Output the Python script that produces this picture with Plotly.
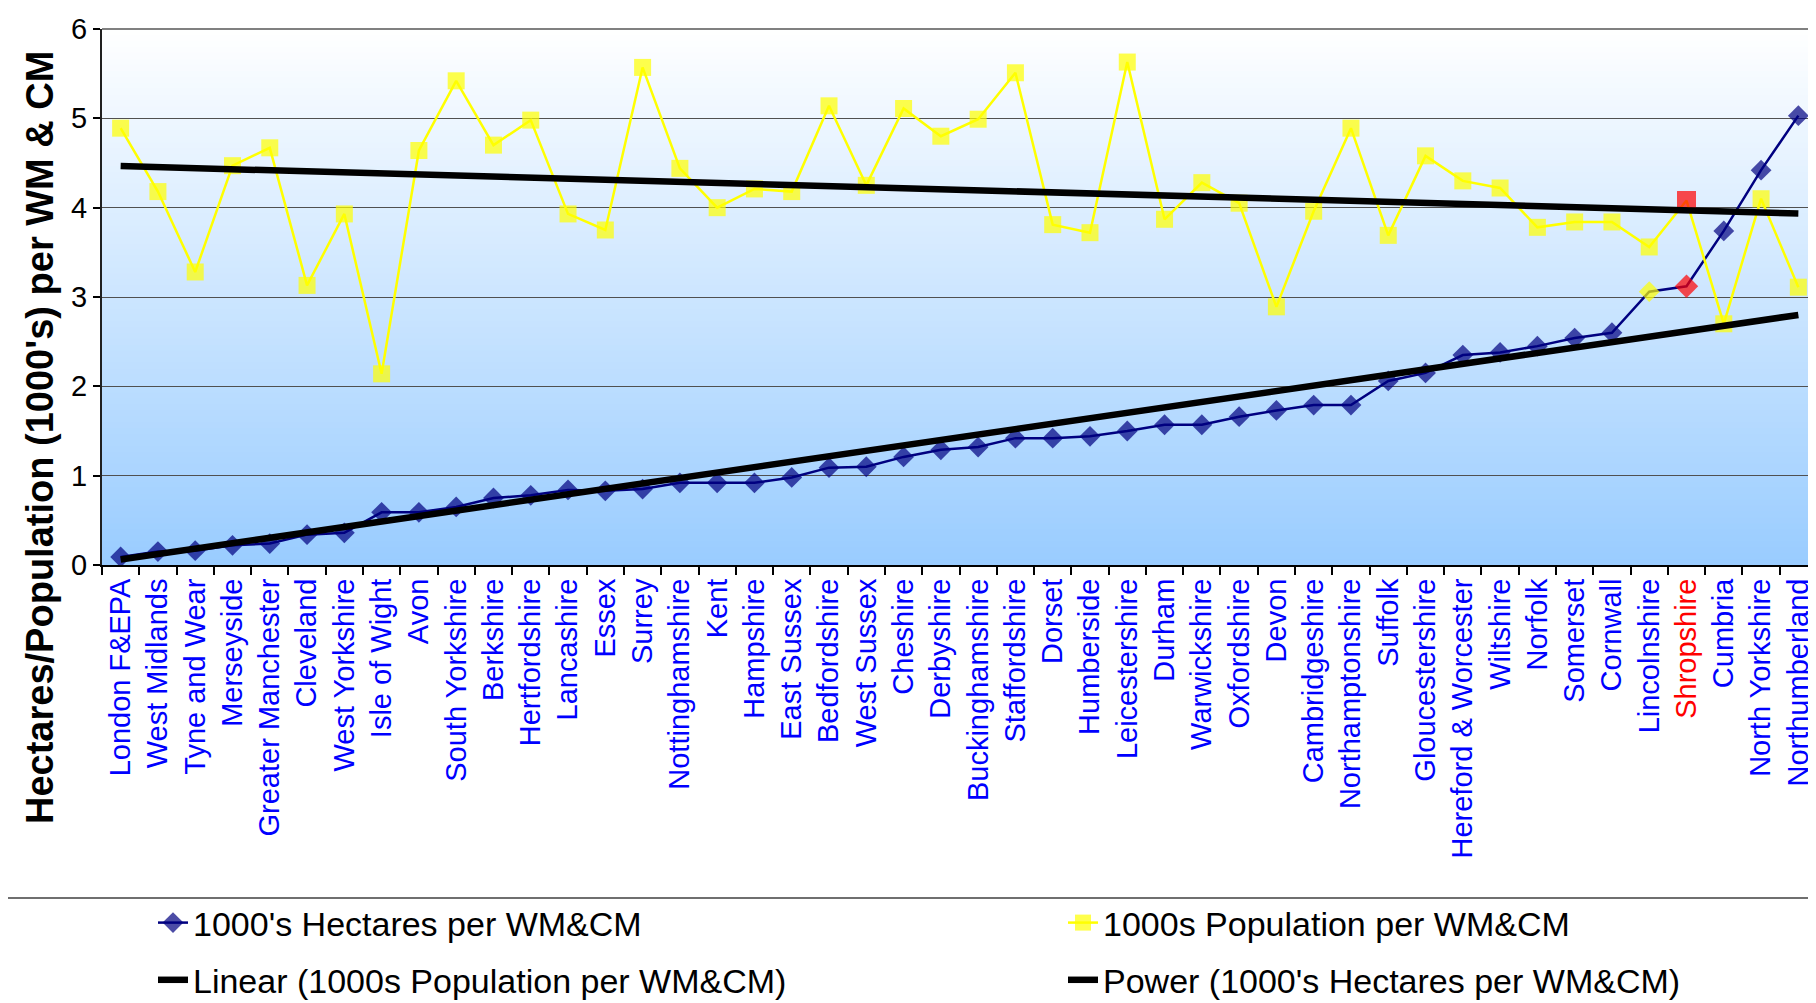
import numpy as np
import plotly.graph_objects as go

categories = [
    "London F&EPA", "West Midlands", "Tyne and Wear", "Merseyside", "Greater Manchester",
    "Cleveland", "West Yorkshire", "Isle of Wight", "Avon", "South Yorkshire",
    "Berkshire", "Hertfordshire", "Lancashire", "Essex", "Surrey",
    "Nottinghamshire", "Kent", "Hampshire", "East Sussex", "Bedfordshire",
    "West Sussex", "Cheshire", "Derbyshire", "Buckinghamshire", "Staffordshire",
    "Dorset", "Humberside", "Leicestershire", "Durham", "Warwickshire",
    "Oxfordshire", "Devon", "Cambridgeshire", "Northamptonshire", "Suffolk",
    "Gloucestershire", "Hereford & Worcester", "Wiltshire", "Norfolk", "Somerset",
    "Cornwall", "Lincolnshire", "Shropshire", "Cumbria", "North Yorkshire",
    "Northumberland",
]

hectares = [
    0.09, 0.15, 0.16, 0.22, 0.24, 0.34, 0.36, 0.59, 0.59, 0.65,
    0.75, 0.78, 0.84, 0.83, 0.85, 0.92, 0.92, 0.92, 0.98, 1.09,
    1.10, 1.21, 1.29, 1.32, 1.42, 1.42, 1.44, 1.50, 1.57, 1.57,
    1.66, 1.73, 1.79, 1.79, 2.06, 2.15, 2.35, 2.38, 2.45, 2.54,
    2.60, 3.06, 3.12, 3.74, 4.42, 5.03,
]

population = [
    4.89, 4.18, 3.28, 4.47, 4.67, 3.13, 3.93, 2.14, 4.64, 5.42,
    4.70, 4.98, 3.93, 3.75, 5.57, 4.44, 4.00, 4.21, 4.18, 5.14,
    4.25, 5.11, 4.80, 4.99, 5.51, 3.81, 3.72, 5.63, 3.87, 4.28,
    4.05, 2.89, 3.96, 4.89, 3.69, 4.58, 4.30, 4.22, 3.78, 3.84,
    3.84, 3.56, 4.08, 2.70, 4.10, 3.11,
]

y_ticks = [0, 1, 2, 3, 4, 5, 6]

# ---- styles ----
NAVY = "#000080"
YELLOW = "#FFFF00"
RED = "#FF0000"
hect_highlight = {"Lincolnshire": YELLOW, "Shropshire": RED}
pop_highlight = {"Shropshire": RED}
label_highlight = {"Shropshire": RED}

hect_colors = [hect_highlight.get(c, NAVY) for c in categories]
hect_sizes = [18 if c == "Shropshire" else 16 for c in categories]
pop_colors = [pop_highlight.get(c, YELLOW) for c in categories]
pop_sizes = [19 if c == "Shropshire" else 17 for c in categories]
ticktext = [
    f'<span style="color:{label_highlight[c]}">{c}</span>' if c in label_highlight else c
    for c in categories
]

# ---- trendlines (as computed by the spreadsheet: linear & power fits) ----
idx = np.arange(1, len(categories) + 1)
lin_coef = np.polyfit(idx, population, 1)
linear_fit = np.polyval(lin_coef, idx)
b_pow, ln_a = np.polyfit(np.log(idx), np.log(hectares), 1)
power_fit = np.exp(ln_a) * idx ** b_pow

fig = go.Figure()
fig.add_trace(go.Scatter(
    x=categories, y=hectares, name="1000's Hectares per WM&CM",
    mode="lines+markers", line=dict(color=NAVY, width=2.5),
    marker=dict(symbol="diamond", size=hect_sizes, color=hect_colors, line=dict(width=0)),
    legend="legend", legendgroup="h",
))
fig.add_trace(go.Scatter(
    x=categories, y=population, name="1000s Population per WM&CM",
    mode="lines+markers", line=dict(color=YELLOW, width=2.5),
    marker=dict(symbol="square", size=pop_sizes, color=pop_colors, line=dict(width=0)),
    legend="legend2", legendgroup="p",
))
fig.add_trace(go.Scatter(
    x=categories, y=linear_fit, name="Linear (1000s Population per WM&CM)",
    mode="lines", line=dict(color="black", width=6.5), legend="legend", legendgroup="l",
))
fig.add_trace(go.Scatter(
    x=categories, y=power_fit, name="Power (1000's Hectares per WM&CM)",
    mode="lines", line=dict(color="black", width=6.5), legend="legend2", legendgroup="w",
))

# ---- gradient plot background (white -> pale blue) ----
shapes = []
N = 90
top = np.array([255, 255, 255])
bot = np.array([153, 204, 255])
for i in range(N):
    t = (i + 0.5) / N
    col = bot + (top - bot) * t
    shapes.append(dict(
        type="rect", xref="paper", yref="paper", x0=0, x1=1,
        y0=i / N, y1=(i + 1) / N + 0.002,
        fillcolor="rgb(%d,%d,%d)" % tuple(col.round().astype(int)),
        line=dict(width=0), layer="below",
    ))
# plot area border (top & right, gray)
shapes.append(dict(type="path", xref="paper", yref="paper", path="M 0,1 L 1,1 L 1,0",
                   line=dict(color="#808080", width=2), layer="above"))
# legend box
W, H = 1816, 1003
L, R, T, B = 94, 7, 21, 446
pw, ph = W - L - R, H - T - B


def px_x(p):
    return (p - L) / pw


def px_y(p):
    return (H - B - p) / ph


shapes.append(dict(type="rect", xref="paper", yref="paper",
                   x0=px_x(-3), x1=px_x(1810), y0=px_y(1010), y1=px_y(890),
                   line=dict(color="#404040", width=1.5), fillcolor="rgba(0,0,0,0)", layer="above"))

legend_font = dict(family="Liberation Sans, Arial", size=34, color="black")

fig.update_layout(
    width=W, height=H,
    margin=dict(l=L, r=R, t=T, b=B, autoexpand=False),
    paper_bgcolor="white", plot_bgcolor="white",
    font=dict(family="Liberation Sans, Arial", color="black"),
    shapes=shapes,
    showlegend=True,
    legend=dict(x=px_x(145), y=px_y(886), xanchor="left", yanchor="top",
                orientation="v", bgcolor="rgba(0,0,0,0)", borderwidth=0, font=legend_font,
                tracegroupgap=10),
    legend2=dict(x=px_x(1055), y=px_y(886), xanchor="left", yanchor="top",
                 orientation="v", bgcolor="rgba(0,0,0,0)", borderwidth=0, font=legend_font,
                 tracegroupgap=10),
    annotations=[dict(
        text="Hectares/Population (1000's) per WM & CM",
        xref="paper", yref="paper", x=px_x(32), y=px_y(430),
        xanchor="center", yanchor="middle", textangle=-90, showarrow=False,
        font=dict(family="Liberation Sans, Arial", size=38, color="black", weight="bold"),
    )],
)

fig.update_xaxes(
    type="category", categoryorder="array", categoryarray=categories,
    tickmode="array", tickvals=categories, ticktext=ticktext,
    tickangle=-90, tickfont=dict(family="Liberation Sans, Arial", size=29, color="#0000FF"),
    tickson="boundaries", ticks="outside", ticklen=8, tickwidth=1.5, tickcolor="black",
    showline=True, linecolor="black", linewidth=2, showgrid=False, zeroline=False,
    range=[-0.5, len(categories) - 0.5],
)
fig.update_yaxes(
    range=[0, 6], tickmode="array", tickvals=y_ticks, ticktext=[str(v) for v in y_ticks],
    tickfont=dict(family="Liberation Sans, Arial", size=29, color="black"),
    ticks="outside", ticklen=7, tickwidth=1.5, tickcolor="black",
    showline=True, linecolor="#202020", linewidth=2,
    showgrid=True, gridcolor="#505050", gridwidth=1, zeroline=False,
)

fig.write_html("out.html")
